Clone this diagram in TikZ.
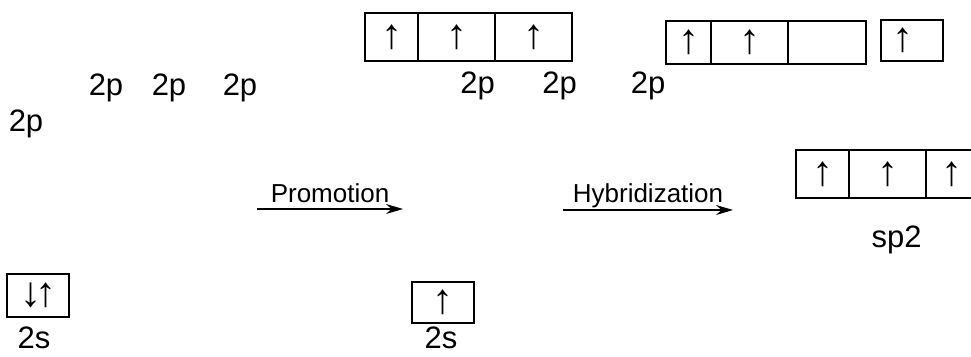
\documentclass[tikz,border=0pt]{standalone}
\usepackage{fontspec}
\setmainfont{Liberation Sans}
\usetikzlibrary{%
  arrows.meta,%
  positioning% wg. " of "
}

\tikzset{
  orb/.style={draw, rectangle, line width=1.4pt, inner sep=0pt, outer sep=0pt,
    font=\fontsize{42}{42}\selectfont},
  lbl/.style={inner sep=0pt, anchor=base, font=\fontsize{31}{31}\selectfont},
  steplbl/.style={inner sep=0pt, anchor=base, yshift=6.5pt, font=\fontsize{26}{26}\selectfont},
  stepline/.style={line width=1.3pt, -{Stealth[length=17pt,width=10pt]}}
}

\begin{document}
\begin{tikzpicture}[x=1pt,y=-1pt]
    \useasboundingbox (0,0) rectangle (971,356);
    %ground state
    \node[lbl] (p0) at (26,131) {2p};
    \node[lbl] (p1) at (106,95) {2p};
    \node[lbl] (p2) at (169,95) {2p};
    \node[lbl] (p3) at (240,95) {2p};
    \node[orb, anchor=north west, minimum width=62pt, minimum height=43pt] (s0) at (7,274) {↓\kern-6pt↑};
    \node[lbl] (s0_l) at (34,348) {2s};

    %promoted
    \node[orb, anchor=north west, minimum width=53pt, minimum height=48pt] (p_a) at (365,13) {↑};
    \node[orb, minimum width=77pt, minimum height=48pt] (p_b) [right=0pt of p_a] {↑};
    \node[orb, minimum width=77pt, minimum height=48pt] (p_c) [right=0pt of p_b] {↑};
    \node[lbl] (q1) at (477.5,93) {2p};
    \node[lbl] (q2) at (559.5,93) {2p};
    \node[lbl] (q3) at (648,93) {2p};
    \node[orb, anchor=north west, minimum width=62pt, minimum height=41pt] (s1) at (412,282) {↑};
    \node[lbl] (s1_l) at (441,348) {2s};

    %hybridized
    \node[orb, anchor=north west, minimum width=45pt, minimum height=43pt] (h_a) at (666,21) {↑};
    \node[orb, minimum width=77pt, minimum height=43pt] (h_b) [right=0pt of h_a] {↑};
    \node[orb, minimum width=78pt, minimum height=43pt] (h_c) [right=0pt of h_b] {};
    \node[orb, anchor=north west, minimum width=62pt, minimum height=41pt] (h_p) at (881,20) {↑\hspace*{18pt}};

    %sp2 row
    \node[orb, anchor=north west, minimum width=53pt, minimum height=48pt] (sp_a) at (796,150) {↑};
    \node[orb, minimum width=77pt, minimum height=48pt] (sp_b) [right=0pt of sp_a] {↑};
    \node[orb, minimum width=52pt, minimum height=48pt] (sp_c) [right=0pt of sp_b] {↑};
    \node[lbl] (sp_l) at (896.5,247) {sp2};

    %steps
    \coordinate (pr_0) at (257,209);
    \coordinate (pr_1) at (403,209);
    \coordinate (hy_0) at (563,210);
    \coordinate (hy_1) at (733,210);
    \draw[stepline] (pr_0) -- node[steplbl] {Promotion} (pr_1);
    \draw[stepline] (hy_0) -- node[steplbl, yshift=1pt] {Hybridization} (hy_1);
\end{tikzpicture}
\end{document}
